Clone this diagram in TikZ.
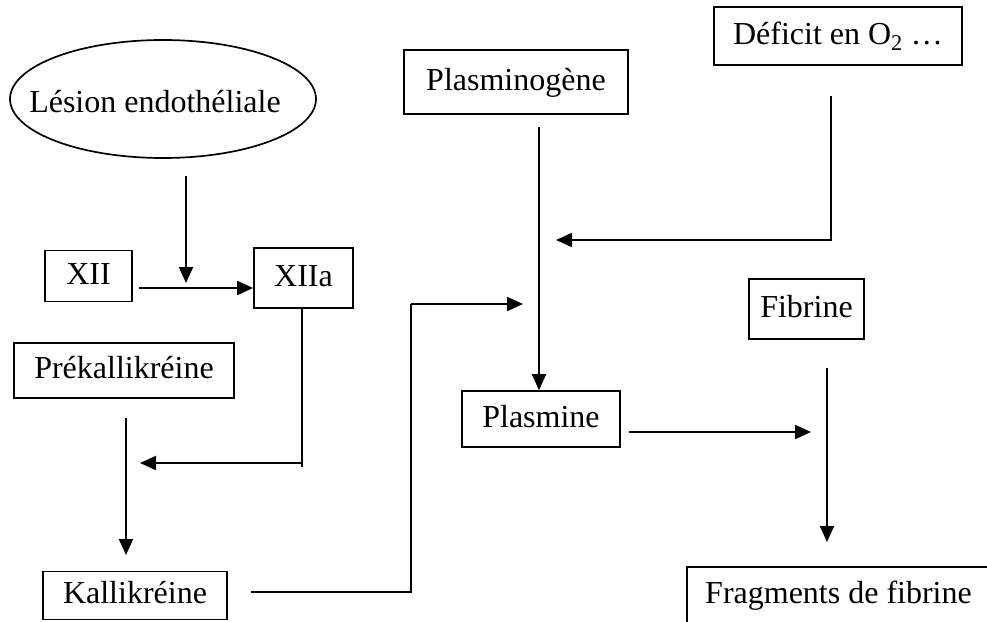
\documentclass[tikz,border=0pt]{standalone}
\usepackage{fontspec}
\setmainfont{Liberation Serif}
\usetikzlibrary{arrows.meta,shapes.geometric}
\begin{document}
\begin{tikzpicture}[x=1pt,y=-1pt,
  every node/.style={font=\fontsize{32}{38}\selectfont, inner sep=0pt, text height=21pt, text depth=5pt},
  box/.style={draw, line width=1.7pt, rectangle},
  conn/.style={line width=2pt},
  arr/.style={conn, -{Triangle[length=16pt,width=14pt]}}]
\useasboundingbox (0,0) rectangle (987,621);
\clip (0,0) rectangle (987,621);
% nodes
\node[draw, line width=1.7pt, ellipse, minimum width=306pt, minimum height=118pt] (les) at (163,99) {};
\node (lestxt) at (155,104) {Lésion endothéliale};
\node[box, minimum width=87pt, minimum height=51pt] (xii) at (88.5,276) {XII};
\node[box, minimum width=99pt, minimum height=60pt] (xiia) at (303.5,278) {XIIa};
\node[box, minimum width=220pt, minimum height=55pt] (prek) at (124,370.5) {Prékallikréine};
\node[box, minimum width=184pt, minimum height=48pt] (kall) at (135,595.5) {Kallikréine};
\node[box, minimum width=224pt, minimum height=64pt] (plg) at (516,82) {Plasminogène};
\node[box, minimum width=248pt, minimum height=58pt] (def) at (838,36) {Déficit en O\textsubscript{2} …};
\node[box, minimum width=115pt, minimum height=60pt] (fib) at (806.5,309) {Fibrine};
\node[box, minimum width=158pt, minimum height=56pt] (plm) at (541,419) {Plasmine};
\node[box, minimum width=303pt, minimum height=56pt] (frag) at (838.5,595) {Fragments de fibrine};
% free-end coordinates
\coordinate (c1s) at (186,176);
\coordinate (c1e) at (186,283);
\coordinate (c2s) at (139,288);
\coordinate (c3b) at (302,467);
\coordinate (c3s) at (301,463);
\coordinate (c3e) at (140,463);
\coordinate (c4s) at (126,418);
\coordinate (c4e) at (126,555);
\coordinate (c5s) at (251,592);
\coordinate (c5a) at (411,592);
\coordinate (c5b) at (411,304);
\coordinate (c5e) at (523,304);
\coordinate (c6s) at (539,127);
\coordinate (c7s) at (831,96);
\coordinate (c7b) at (831,241);
\coordinate (c7h) at (831,240);
\coordinate (c7e) at (556,240);
\coordinate (c8s) at (629,432);
\coordinate (c8e) at (811,432);
\coordinate (c9s) at (827,368);
\coordinate (c9e) at (827,542);
% connectors
\draw[arr] (c1s) -- (c1e);
\draw[arr] (c2s) -- (xiia.west |- c2s);
\draw[conn] (xiia.south -| c3b) -- (c3b);
\draw[arr] (c3s) -- (c3e);
\draw[arr] (c4s) -- (c4e);
\draw[conn] (c5s) -- (c5a) -- (c5b);
\draw[arr] (c5b) -- (c5e);
\draw[arr] (c6s) -- (plm.north -| c6s);
\draw[conn] (c7s) -- (c7b);
\draw[arr] (c7h) -- (c7e);
\draw[arr] (c8s) -- (c8e);
\draw[arr] (c9s) -- (c9e);
\end{tikzpicture}
\end{document}
